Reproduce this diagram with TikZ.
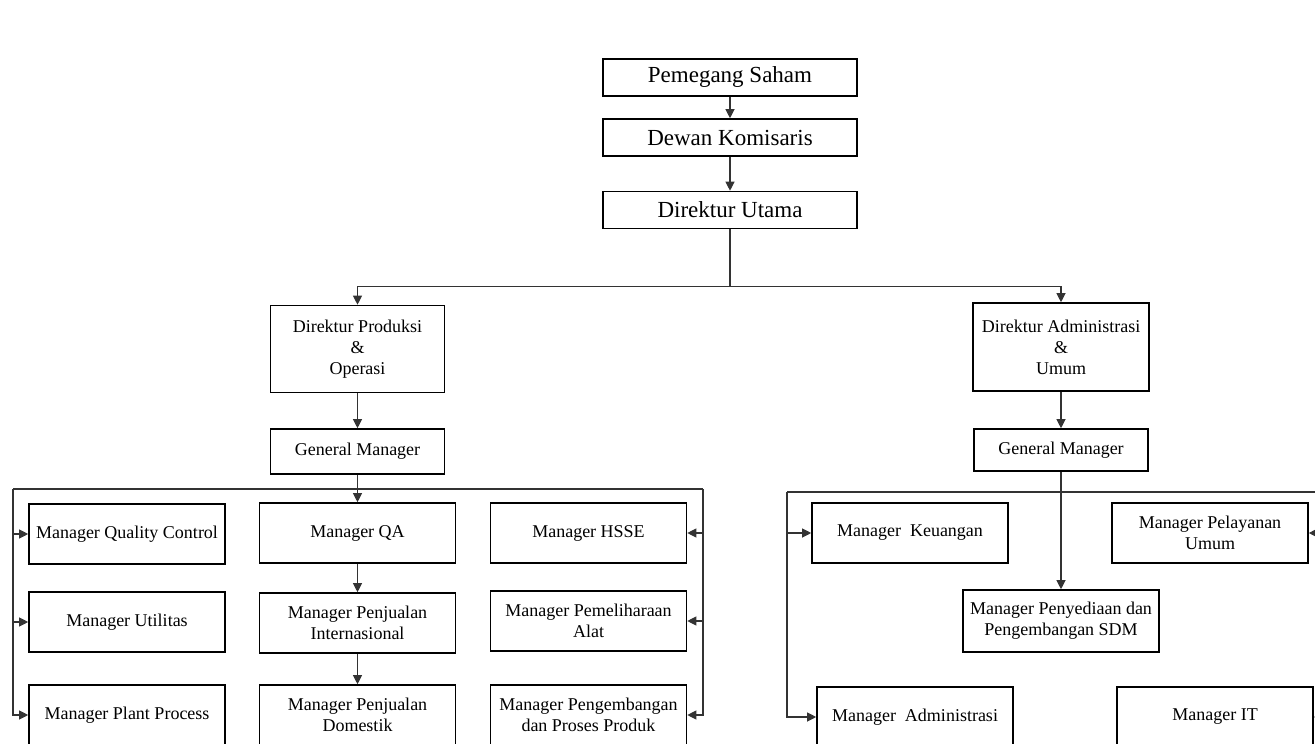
\documentclass[tikz,border=0pt]{standalone}
\usepackage{fontspec}
\setmainfont{Liberation Serif}
\usetikzlibrary{arrows.meta}

\begin{document}
\begin{tikzpicture}[x=1pt, y=-1pt, >={Triangle[width=9pt,length=9pt]},
		box/.style={draw, line width=1.6pt, align=center, inner sep=0pt, font=\fontsize{18}{21}\selectfont},
		bigbox/.style={box, minimum width=254pt, minimum height=37pt, font=\fontsize{23}{26}\selectfont},
		unit/.style={box, minimum width=196pt, minimum height=60pt},
		link/.style={line width=1.1pt, black!80}]
	\useasboundingbox (0,0) rectangle (1315,744);

	% puncak
	\node[bigbox] (saham) at (730,77.5) {Pemegang Saham};
	\node[bigbox] (komisaris) at (730,137.5) {Dewan Komisaris};
	\node[bigbox] (utama) at (730,210) {Direktur Utama};

	% direktur
	\node[box, minimum width=174pt, minimum height=87pt] (dirprod) at (357.5,349) {Direktur Produksi\\\&\\Operasi};
	\node[box, minimum width=176pt, minimum height=88pt] (diradm) at (1061,347) {Direktur Administrasi\\\&\\Umum};
	\node[box, minimum width=174pt, minimum height=45pt] (gmprod) at (357.5,451.5) {General Manager};
	\node[box, minimum width=174pt, minimum height=42pt] (gmadm) at (1061,450) {General Manager};

	% produksi
	\node[unit] (qc) at (127,534) {Manager Quality Control};
	\node[unit] (util) at (127,622) {Manager Utilitas};
	\node[unit] (plant) at (127,715) {Manager Plant Process};
	\node[unit] (qa) at (357.5,533) {Manager QA};
	\node[unit] (intl) at (357.5,623) {Manager Penjualan\\Internasional};
	\node[unit] (dom) at (357.5,715) {Manager Penjualan\\Domestik};
	\node[unit] (hsse) at (588.5,533) {Manager HSSE};
	\node[unit] (alat) at (588.5,621) {Manager Pemeliharaan\\Alat};
	\node[unit] (produk) at (588.5,715) {Manager Pengembangan\\dan Proses Produk};

	% administrasi
	\node[unit] (uang) at (910,533) {Manager\ \ Keuangan};
	\node[unit] (umum) at (1210,533) {Manager Pelayanan\\Umum};
	\node[unit, minimum height=62pt] (sdm) at (1061,621) {Manager Penyediaan dan\\Pengembangan SDM};
	\node[unit] (adm) at (915,717) {Manager\ \ Administrasi};
	\node[unit] (it) at (1215,717) {Manager IT};

	% garis
	\draw[link, ->] (saham) -- (komisaris);
	\draw[link, ->] (komisaris) -- (utama);
	\draw[link] (utama.south) -- ++(0,57) coordinate (bus);
	\draw[link, ->] (bus) -| (dirprod.north);
	\draw[link, ->] (bus) -| (diradm.north);
	\draw[link, ->] (dirprod) -- (gmprod);
	\draw[link, ->] (diradm) -- (gmadm);

	\coordinate (kiri1) at (13,489);
	\coordinate (kanan1) at (703,489);
	\draw[link] (kiri1) -- (kanan1);
	\draw[link, ->] (gmprod) -- (qa);
	\draw[link, ->] (qa) -- (intl);
	\draw[link, ->] (intl) -- (dom);
	\foreach \n in {qc, util, plant} \draw[link, ->] (kiri1) |- (\n);
	\foreach \n in {hsse, alat, produk} \draw[link, ->] (kanan1) |- (\n);

	\coordinate (kiri2) at (787,492);
	\coordinate (kanan2) at (1318,492);
	\draw[link] (kiri2) -- (kanan2);
	\draw[link, ->] (gmadm) -- (sdm);
	\foreach \n in {uang, adm} \draw[link, ->] (kiri2) |- (\n);
	\foreach \n in {umum, it} \draw[link, ->] (kanan2) |- (\n);
\end{tikzpicture}
\end{document}
